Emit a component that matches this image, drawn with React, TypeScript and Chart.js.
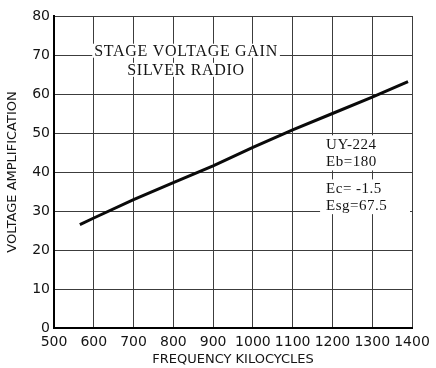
import React, { useEffect, useRef } from "react";
import { Chart, registerables } from "chart.js";

Chart.register(...registerables);

const frequencies = [565, 600, 700, 800, 900, 1000, 1100, 1200, 1300, 1390];
const amplification = [26.5, 28.2, 32.9, 37.3, 41.6, 46.3, 50.8, 55.0, 59.2, 63.2];
const xTickValues = [500, 600, 700, 800, 900, 1000, 1100, 1200, 1300, 1400];
const yTickValues = [0, 10, 20, 30, 40, 50, 60, 70, 80];
const titleLines = ["STAGE VOLTAGE GAIN", "SILVER RADIO"];
const tubeGroupA = ["UY-224", "Eb=180"];
const tubeGroupB = ["Ec= -1.5", "Esg=67.5"];
const xAxisTitle = "FREQUENCY KILOCYCLES";
const yAxisTitle = "VOLTAGE AMPLIFICATION";

const annotationPlugin = {
  id: "annotations",
  beforeDatasetsDraw(chart: any) {
    const ctx = chart.ctx as CanvasRenderingContext2D;
    const xs = chart.scales.x;
    const ys = chart.scales.y;
    ctx.save();
    ctx.textBaseline = "middle";

    // Title block
    ctx.font = '16px "Liberation Serif"';
    (ctx as any).letterSpacing = "0.7px";
    ctx.textAlign = "center";
    const cx = xs.getPixelForValue(832);
    const titleY = [71.1, 66.2];
    titleLines.forEach((t, i) => {
      const y = ys.getPixelForValue(titleY[i]);
      const w = ctx.measureText(t).width;
      ctx.fillStyle = "#ffffff";
      ctx.fillRect(cx - w / 2 - 2, y - 7, w + 4, 14);
      ctx.fillStyle = "#141414";
      ctx.fillText(t, cx, y + 1);
    });

    // Tube data block
    ctx.font = '15px "Liberation Serif"';
    (ctx as any).letterSpacing = "0.5px";
    ctx.textAlign = "left";
    const lx = xs.getPixelForValue(1184);
    const right = chart.chartArea.right - 2;
    const drawGroup = (lines: string[], vals: number[]) => {
      const y0 = ys.getPixelForValue(vals[0]);
      const y1 = ys.getPixelForValue(vals[vals.length - 1]);
      ctx.fillStyle = "#ffffff";
      ctx.fillRect(lx - 6, y0 - 9, right - lx + 6, y1 - y0 + 18);
      ctx.fillStyle = "#141414";
      lines.forEach((t, i) => ctx.fillText(t, lx, ys.getPixelForValue(vals[i]) + 1));
    };
    drawGroup(tubeGroupA, [47.1, 42.7]);
    drawGroup(tubeGroupB, [35.8, 31.5]);
    ctx.restore();
  },
};

export default function App() {
  const ref = useRef<HTMLCanvasElement>(null);
  useEffect(() => {
    document.body.style.margin = "0";
    const canvas = ref.current!;
    const chart = new Chart(canvas, {
      type: "line",
      data: {
        datasets: [
          {
            data: frequencies.map((f, i) => ({ x: f, y: amplification[i] })),
            borderColor: "#0a0a0a",
            borderWidth: 3,
            pointRadius: 0,
            tension: 0,
            fill: false,
          },
        ],
      },
      options: {
        animation: false,
        responsive: false,
        devicePixelRatio: 1,
        layout: { padding: { top: 16, right: 24, left: 0, bottom: 0 } },
        plugins: {
          legend: { display: false },
          tooltip: { enabled: false },
        },
        scales: {
          x: {
            type: "linear",
            min: 500,
            max: 1400,
            afterBuildTicks: (scale: any) => {
              scale.ticks = xTickValues.map((v) => ({ value: v }));
            },
            afterFit: (scale: any) => {
              scale.height = 40;
            },
            grid: { color: "#3c3c3c", lineWidth: 1, drawTicks: false },
            border: { display: true, color: "#000000", width: 2 },
            ticks: {
              padding: 6,
              color: "#141414",
              font: { family: '"DejaVu Sans"', size: 14 },
              maxRotation: 0,
              autoSkip: false,
              callback: (v: any) => String(v),
            },
            title: {
              display: true,
              text: xAxisTitle,
              color: "#141414",
              font: { family: '"DejaVu Sans"', size: 13 },
              padding: { top: 0, bottom: 1 },
            },
          },
          y: {
            type: "linear",
            min: 0,
            max: 80,
            afterBuildTicks: (scale: any) => {
              scale.ticks = yTickValues.map((v) => ({ value: v }));
            },
            afterFit: (scale: any) => {
              scale.width = 54;
            },
            grid: { color: "#3c3c3c", lineWidth: 1, drawTicks: false },
            border: { display: true, color: "#000000", width: 2 },
            ticks: {
              padding: 4,
              color: "#141414",
              font: { family: '"DejaVu Sans"', size: 14 },
              autoSkip: false,
              callback: (v: any) => String(v),
            },
            title: {
              display: true,
              text: yAxisTitle,
              color: "#141414",
              font: { family: '"DejaVu Sans"', size: 13 },
              padding: { top: 5, bottom: 0 },
            },
          },
        },
      },
      plugins: [annotationPlugin],
    });
    return () => chart.destroy();
  }, []);
  return (
    <div style={{ width: 436, height: 368, background: "#ffffff" }}>
      <canvas ref={ref} width={436} height={368} style={{ display: "block" }} />
    </div>
  );
}
